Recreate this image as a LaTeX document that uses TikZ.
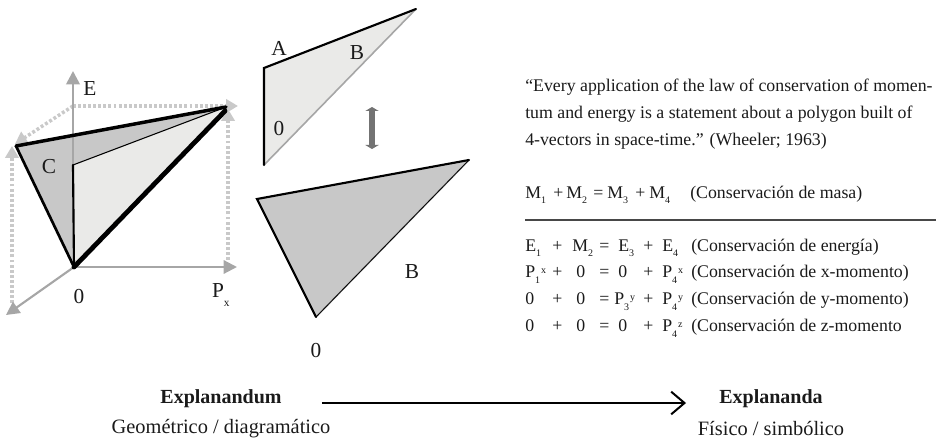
\documentclass[tikz,border=0pt]{standalone}
\usepackage{xcolor}
\usepackage{fontspec}
\setmainfont{Liberation Serif}
\definecolor{ink}{HTML}{1A1A1A}
\definecolor{axisgray}{HTML}{A6A6A6}
\definecolor{dotgray}{HTML}{C9C9C9}
\definecolor{paneldark}{HTML}{C8C8C8}
\definecolor{panellight}{HTML}{EAEAE8}
\usetikzlibrary{arrows.meta, positioning}
\newcommand{\subidx}[1]{\raisebox{-0.55ex}{\fontsize{7.5}{8}\selectfont #1}}
\newcommand{\subsupidx}[2]{\rlap{\raisebox{-0.75ex}{\fontsize{7.5}{8}\selectfont #1}}\hspace{0.33em}\raisebox{0.4ex}{\fontsize{7.5}{8}\selectfont #2}}
\newcommand{\cell}[2]{\makebox[#1][l]{#2}}
\tikzset{
  lbl/.style={font=\fontsize{16}{18}\selectfont, text=ink, inner sep=0pt},
  body/.style={font=\fontsize{13.35}{20.25}\selectfont, text=ink, inner sep=0pt, anchor=west},
  capt/.style={font=\fontsize{15.3}{18}\selectfont, text=ink, inner sep=0pt},
  captb/.style={font=\fontsize{15}{18}\selectfont\bfseries, text=ink, inner sep=0pt},
  axis/.style={-{Triangle[length=10pt, width=10pt]}, line width=1.6pt, color=axisgray},
  dots/.style={line width=2.6pt, color=dotgray, dash pattern=on 2.2pt off 1.6pt},
  dotarrow/.style={dots, -{Triangle[length=9pt, width=10pt, color=dotgray]}},
  edge/.style={line width=#1, color=black, line cap=round},
}
\begin{document}
\begin{tikzpicture}[x=0.75pt, y=-0.75pt]
  \useasboundingbox (0,0) rectangle (936,442);

  % Polygon in space-time.
  \coordinate (orig) at (74,267);
  \coordinate (apex) at (226,107);
  \coordinate (apexr) at (225,111);
  \coordinate (left) at (16,146);
  \coordinate (inner) at (73,165);
  \coordinate (back) at (73,106);
  \coordinate (etop) at (73,71);
  \coordinate (pxend) at (237,267);
  \coordinate (zend) at (6,315);

  \draw[dotarrow] (12,303) -- (12,146);
  \draw[dotarrow] (back) -- (15,144);
  \draw[dotarrow] (back) -- (238,106);
  \draw[dotarrow] (228,260) -- (228,109);

  \fill[paneldark] (left) -- (apex) -- (inner) -- (orig) -- cycle;
  \fill[panellight] (inner) -- (apex) -- (orig) -- cycle;
  \draw[axis] (orig) -- (pxend);
  \draw[axis] (orig) -- (zend);
  \draw[axis, line width=2pt] (inner) -- (etop);
  \draw[edge=2.6pt] (left) -- (apex);
  \draw[edge=2pt] (left) -- (orig);
  \draw[edge=1.6pt] (inner) -- (orig);
  \draw[edge=0.8pt] (inner) -- (apex);
  \draw[edge=3.6pt] (orig) -- (apexr);

  \node[lbl] (labE) at (90,89) {E};
  \node[lbl] (labC) at (49,167) {C};
  \node[lbl] (lab0) at (79,297) {0};
  \node[lbl] (labP) at (218,295) {P\rlap{\raisebox{-1.0ex}{\fontsize{8.5}{9}\selectfont x}}};

  % Its two faces, taken apart.
  \coordinate (upA) at (264,68);
  \coordinate (upB) at (416,9);
  \coordinate (upC) at (264,165);
  \fill[panellight] (upA) -- (upB) -- (upC) -- cycle;
  \draw[line width=1.2pt, color=axisgray] (upC) -- (upB);
  \draw[edge=1.6pt] (upC) -- (upA) -- (upB);

  \node[lbl] (topA) at (279,48) {A};
  \node[lbl] (topB) at (357,53) {B};
  \node[lbl] (top0) at (279,129) {0};

  \coordinate (swapA) at (372,107);
  \coordinate (swapB) at (372,149);
  \draw[{Triangle[length=3pt, width=10pt]}-{Triangle[length=3pt, width=10pt]}, line width=4.5pt, color=black!55]
    (swapA) -- (swapB);

  \coordinate (lowA) at (257,199);
  \coordinate (lowB) at (469,160);
  \coordinate (lowC) at (316,317);
  \fill[paneldark] (lowA) -- (lowB) -- (lowC) -- cycle;
  \draw[line width=1.2pt, color=axisgray] (lowC) -- (lowB);
  \draw[edge=1.6pt] (lowC) -- (lowA) -- (lowB);
  \draw[edge=0.6pt] (lowC) -- (lowB);

  \node[lbl] (lowlabB) at (412,272) {B};
  \node[lbl] (lowlab0) at (316,351) {0};

  % Quote and conservation laws.
  \node[body, align=left] (quote) at (525,114)
    {“Every application of the law of conservation of momen-\\
     tum and energy is a statement about a polygon built of\\
     4-vectors in space-time.” (Wheeler; 1963)};

  \node[body] (eqmass) at (525,195)
    {\cell{21pt}{M\subidx{1}}\cell{9.75pt}{+}\cell{20.25pt}{M\subidx{2}}\cell{10.5pt}{=}\cell{21pt}{M\subidx{3}}\cell{10.5pt}{+}\cell{30.75pt}{M\subidx{4}}(Conservación de masa)};
  \coordinate (ruleA) at (525,220);
  \coordinate (ruleB) at (936,220);
  \draw[line width=1.1pt, color=ink!80] (ruleA) -- (ruleB);

  \node[body] (eqen) at (525,248)
    {\cell{20.25pt}{E\subidx{1}}\cell{15pt}{+}\cell{20.25pt}{M\subidx{2}}\cell{14.25pt}{=}\cell{18.75pt}{E\subidx{3}}\cell{14.25pt}{+}\cell{21.75pt}{E\subidx{4}}(Conservación de energía)};
  \node[body] (eqx) at (525,274)
    {\cell{20.25pt}{P\subsupidx{1}{x}}\cell{18pt}{+}\cell{17.25pt}{0}\cell{14.25pt}{=}\cell{18.75pt}{0}\cell{14.25pt}{+}\cell{21.75pt}{P\subsupidx{4}{x}}(Conservación de x-momento)};
  \node[body] (eqy) at (525,301)
    {\cell{20.25pt}{0}\cell{18pt}{+}\cell{17.25pt}{0}\cell{11.25pt}{=}\cell{21.75pt}{P\subsupidx{3}{y}}\cell{14.25pt}{+}\cell{21.75pt}{P\subsupidx{4}{y}}(Conservación de y-momento)};
  \node[body] (eqz) at (525,328)
    {\cell{20.25pt}{0}\cell{18pt}{+}\cell{17.25pt}{0}\cell{14.25pt}{=}\cell{18.75pt}{0}\cell{14.25pt}{+}\cell{21.75pt}{P\subsupidx{4}{z}}(Conservación de z-momento};

  % From one reading to the other.
  \node[captb] (from) at (221,399) {Explanandum};
  \node[capt] (fromsub) at (221,429) {Geométrico / diagramático};
  \node[captb] (to) at (771,399) {Explananda};
  \node[capt] (tosub) at (771,429) {Físico / simbólico};
  \draw[-{Straight Barb[length=10pt, width=17pt, line width=1.5pt]}, line width=1.5pt, color=black]
    ([xshift=30pt, yshift=-3pt]from.east) -- ([xshift=-24.75pt, yshift=-3pt]to.west);
\end{tikzpicture}
\end{document}
